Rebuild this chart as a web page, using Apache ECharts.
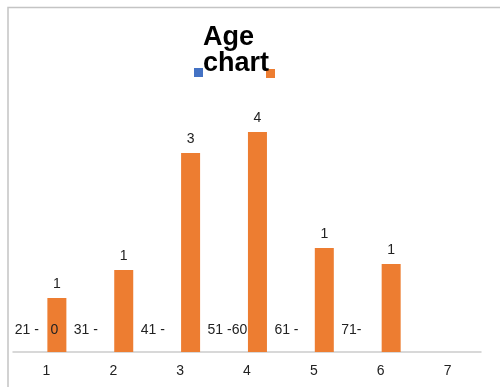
<!DOCTYPE html>
<html><head><meta charset="utf-8">
<script src="https://cdn.jsdelivr.net/npm/echarts@6/dist/echarts.min.js"></script>
<style>html,body{margin:0;padding:0;background:#fff}#c{width:500px;height:387px}</style>
</head><body><div id="c"></div>
<script>
var categories = ['1','2','3','4','5','6','7'];
var ageGroupLabels = ['  21 -   0','31 -','41 -','51 -60','61 -','71-',''];
var ageGroupValues = [0,0,0,0,0,0,0];
var countHeights = [0.98,1.49,3.62,4.0,1.89,1.6,null];
var countLabels = ['1','1','3','4','1','1',''];

var chart = echarts.init(document.getElementById('c'));
var font = 'Liberation Sans, Arial, sans-serif';
chart.setOption({
  animation:false,
  title:{text:'Age\nchart',left:203,top:25,padding:0,textStyle:{fontFamily:font,fontSize:27,fontWeight:'bold',color:'#000',lineHeight:26}},
  legend:[
    {data:['Age group'],left:194,top:68,padding:0,itemWidth:9,itemHeight:9,icon:'rect',formatter:function(){return '';},textStyle:{fontSize:1}},
    {data:['Count'],left:266,top:69,padding:0,itemWidth:9,itemHeight:9,icon:'rect',formatter:function(){return '';},textStyle:{fontSize:1}}
  ],
  graphic:[{type:'polyline',shape:{points:[[8,387],[8,7.5],[500,7.5]]},style:{stroke:'#c4c4c4',lineWidth:1.5,fill:null},silent:true}],
  grid:{left:13,right:19,bottom:35,top:132},
  xAxis:{type:'category',data:categories,axisLine:{lineStyle:{color:'#cccccc',width:1.5}},axisTick:{show:false},
    axisLabel:{color:'#222',fontFamily:font,fontSize:14,margin:12}},
  yAxis:{type:'value',min:0,max:4,show:false,splitLine:{show:false}},
  series:[
    {name:'Age group',type:'bar',data:ageGroupValues,barWidth:19,barGap:'10%',itemStyle:{color:'#4472C4'},
      label:{show:true,position:'top',distance:15,align:'left',offset:[-29,0],color:'#222',fontFamily:font,fontSize:14,
        formatter:function(p){return ageGroupLabels[p.dataIndex];}}},
    {name:'Count',type:'bar',data:countHeights,barWidth:19,itemStyle:{color:'#ED7D31'},
      label:{show:true,position:'top',distance:7,color:'#222',fontFamily:font,fontSize:14,
        formatter:function(p){return countLabels[p.dataIndex];}}}
  ]
});
</script></body></html>
